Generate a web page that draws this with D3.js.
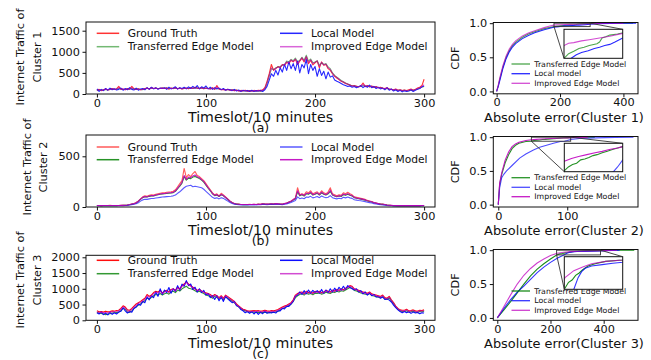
<!DOCTYPE html>
<html>
<head>
<meta charset="utf-8">
<script src="https://cdn.jsdelivr.net/npm/d3@7"></script>
<style>
  body { margin: 0; background: #fff; }
  svg { font-family: "DejaVu Sans", sans-serif; }
</style>
</head>
<body>
<script>
// timeslot of every stored sample (every second slot, 0..300)
const timeslots = d3.range(0, 301, 2);

// ---- cluster 1 traffic ----
const truth1 = [90,110,80,100,120,95,110,130,105,120,180,
  110,120,100,130,115,180,120,110,125,100,
  110,130,140,120,150,130,140,125,135,140,
  130,145,120,140,130,150,125,140,120,135,
  140,125,150,130,160,140,130,150,125,140,
  130,120,150,110,200,120,100,110,95,110,
  90,100,80,95,70,85,75,90,65,80,
  70,85,75,90,80,100,150,300,480,700,
  560,600,650,620,700,680,750,720,800,760,
  820,700,780,850,760,880,720,800,690,740,
  780,620,760,680,700,600,560,480,420,380,
  340,300,280,250,230,210,190,200,180,170,
  190,260,180,200,170,190,160,175,150,160,
  140,130,150,120,110,100,120,90,100,80,
  95,80,100,120,90,110,140,160,200,350];
const transfer1 = [80,100,90,95,110,100,105,120,110,115,130,
  120,110,105,120,115,130,125,110,120,105,
  100,120,135,125,140,130,135,130,130,140,
  135,140,125,135,130,140,130,135,125,130,
  135,130,140,135,145,140,135,140,130,135,
  130,125,135,120,140,120,110,105,100,105,
  95,95,85,90,80,80,75,80,70,75,
  70,75,65,70,60,80,120,250,420,600,
  580,620,640,650,680,700,780,760,820,790,
  850,760,800,870,800,920,780,830,740,760,
  790,680,740,700,720,640,600,500,440,400,
  360,320,290,260,235,215,195,190,180,170,
  180,200,175,190,170,180,160,165,150,150,
  135,125,130,115,105,95,100,85,90,80,
  85,75,80,90,85,100,120,140,160,180];
const local1 = [120,60,110,80,130,90,140,100,125,95,110,
  140,90,130,100,150,110,95,140,90,120,
  130,100,150,110,160,120,150,110,140,130,
  150,110,160,120,140,170,115,150,130,160,
  120,170,130,180,140,200,120,170,140,190,
  120,160,110,150,120,140,100,130,90,110,
  100,80,110,70,95,60,90,70,85,60,
  90,60,80,70,90,60,100,180,330,480,
  420,560,450,620,520,700,560,760,600,720,
  560,780,500,700,620,820,480,700,560,650,
  420,600,440,540,360,520,400,430,330,300,
  280,250,220,200,180,190,160,180,150,170,
  200,150,190,160,210,150,180,130,160,120,
  140,100,150,90,120,70,100,60,90,50,
  80,60,70,100,60,90,110,130,170,190];
const improved1 = [85,105,85,95,115,100,105,125,110,115,150,
  115,115,100,125,110,150,120,110,120,100,
  105,125,135,120,145,130,135,125,130,140,
  130,140,120,135,125,145,125,135,120,130,
  135,125,145,130,150,140,130,145,125,135,
  130,120,140,115,170,120,105,105,95,105,
  90,95,80,90,75,80,70,85,65,75,
  65,80,70,80,70,90,130,270,440,620,
  570,610,640,630,690,690,760,740,810,770,
  830,730,790,860,780,890,750,810,720,750,
  785,650,750,690,710,620,580,490,430,390,
  350,310,285,255,235,212,192,195,180,170,
  185,230,178,195,170,185,160,170,150,155,
  138,128,140,118,108,98,110,88,95,80,
  90,78,90,105,88,105,130,150,180,220];

// ---- cluster 2 traffic ----
const truth2 = [15,15,14,15,15,15,16,15,15,15,15,
  16,17,18,20,25,30,35,45,60,80,
  100,110,105,115,120,118,125,130,135,140,
  140,145,148,150,155,170,200,230,260,380,
  290,320,300,330,350,310,300,280,260,230,
  200,170,140,120,130,110,135,120,100,80,
  60,45,35,30,28,25,24,25,24,26,
  25,27,25,28,26,35,30,28,30,32,
  30,35,32,30,28,35,40,50,60,75,
  90,190,120,130,120,150,140,160,130,140,
  150,130,160,140,130,150,190,130,120,110,
  120,115,140,130,145,130,120,100,95,90,
  85,80,75,65,60,55,45,40,35,30,
  28,25,20,18,16,15,15,14,15,14,
  15,14,15,14,14,15,14,14,15,15];
const transfer2 = [14,14,14,14,15,14,15,14,15,14,15,
  15,16,17,19,23,28,32,40,55,75,
  92,100,98,105,110,110,115,120,125,128,
  130,133,135,138,142,155,180,205,235,300,
  265,285,280,295,300,290,280,265,245,215,
  185,160,130,112,118,104,120,110,92,74,
  55,42,33,28,26,24,23,24,23,24,
  24,25,24,26,25,30,28,27,28,30,
  28,32,30,28,27,32,37,46,55,68,
  82,150,110,120,108,130,125,140,118,125,
  135,118,140,125,118,130,155,118,108,100,
  108,104,122,115,125,115,108,92,86,82,
  78,73,68,60,55,50,42,37,32,28,
  26,23,19,17,15,14,14,13,14,13,
  14,13,14,13,13,14,13,13,14,14];
const local2 = [12,12,12,12,12,12,12,12,12,12,12,
  13,14,15,16,19,23,27,32,42,58,
  70,76,75,80,84,84,88,92,95,98,
  100,102,104,106,110,118,135,150,170,190,
  205,210,215,200,205,200,195,190,175,155,
  135,115,95,85,90,80,92,85,72,58,
  44,34,28,24,22,21,20,21,20,21,
  21,22,21,22,22,25,24,23,24,26,
  24,27,26,24,23,27,31,38,45,55,
  65,100,82,88,82,98,95,105,90,96,
  104,92,108,98,92,96,112,92,85,80,
  86,82,96,90,98,90,85,72,68,64,
  61,57,53,47,43,39,33,29,26,22,
  20,18,15,13,12,11,11,11,11,11,
  11,11,11,11,11,11,11,11,12,12];
const improved2 = [15,15,14,15,15,15,15,15,15,15,15,
  16,16,18,20,24,29,33,42,57,77,
  95,103,100,108,113,112,118,123,128,132,
  133,137,140,142,146,160,186,212,242,310,
  272,295,290,305,315,298,288,270,252,220,
  190,163,133,115,122,106,124,113,94,76,
  57,43,34,29,27,25,24,25,24,25,
  25,26,25,27,26,32,29,28,29,31,
  29,33,31,29,28,33,38,48,57,71,
  86,160,115,125,112,135,130,146,122,130,
  140,122,146,130,122,135,165,122,112,104,
  112,108,128,120,132,120,112,95,89,85,
  80,75,70,62,57,52,43,38,33,29,
  27,24,20,17,16,15,14,14,14,14,
  14,14,14,14,14,14,14,14,15,15];

// ---- cluster 3 traffic ----
const truth3 = [300,270,280,260,290,270,280,300,290,310,320,
  380,460,420,330,320,380,450,520,560,600,
  650,700,820,760,800,880,920,900,950,870,
  920,950,900,980,1000,950,1050,1000,1100,1150,
  1230,1150,1100,1050,1000,950,980,930,900,870,
  850,820,760,820,780,720,780,700,800,750,
  700,650,600,520,460,400,350,330,300,290,
  300,310,300,310,290,300,320,300,290,310,
  300,320,340,380,420,450,480,520,560,650,
  800,850,880,900,850,920,880,900,860,920,
  900,920,880,900,950,920,900,960,930,980,
  950,1000,970,1020,1060,1100,1080,1000,980,950,
  920,900,880,860,900,840,820,800,780,760,
  800,720,700,760,650,560,450,380,330,320,
  320,350,300,310,330,300,290,320,310,330];
const transfer3 = [250,230,220,200,180,200,210,230,240,250,260,
  300,380,350,260,250,300,370,430,480,520,
  580,620,700,680,720,780,820,800,850,800,
  840,870,830,900,920,880,960,930,1000,1040,
  1080,1020,1000,980,940,900,920,880,850,800,
  780,760,700,760,720,680,720,650,740,700,
  650,600,560,480,420,370,320,300,270,260,
  260,260,250,255,240,250,260,250,240,255,
  250,270,290,330,370,400,430,470,510,600,
  720,780,820,850,800,860,830,850,810,860,
  850,870,830,850,890,870,850,900,880,920,
  900,940,920,960,1000,1040,1020,950,930,900,
  870,850,830,820,850,790,770,750,730,720,
  750,680,660,710,610,520,420,350,300,280,
  280,300,260,270,290,260,250,280,270,290];
const local3 = [240,200,260,180,230,170,250,190,240,200,260,
  290,400,300,230,280,260,380,420,520,480,
  600,560,740,650,780,720,900,760,1000,820,
  960,880,1040,860,1000,920,1100,950,1150,1080,
  1260,1100,1150,980,1050,900,1000,880,950,800,
  840,720,780,660,780,620,740,600,760,680,
  620,560,600,460,440,340,300,240,280,220,
  280,200,270,190,260,210,280,220,250,230,
  260,230,300,300,380,360,450,440,520,600,
  760,800,900,820,940,840,960,860,950,880,
  940,860,980,860,960,880,1000,900,1020,920,
  1050,960,1080,980,1100,1040,1000,960,1000,900,
  940,840,900,800,860,780,820,740,760,700,
  740,660,680,640,580,480,400,330,280,240,
  280,240,270,220,260,230,250,210,240,230];
const improved3 = [270,250,260,240,250,240,260,270,270,280,300,
  350,430,390,300,290,350,420,480,530,570,
  620,670,780,730,770,850,890,870,920,850,
  900,930,880,960,990,930,1030,980,1080,1120,
  1200,1130,1080,1030,990,940,970,920,890,850,
  830,800,740,800,760,700,760,680,780,740,
  680,630,580,500,440,390,340,310,290,280,
  280,290,280,290,270,280,300,280,270,290,
  280,300,320,360,400,430,460,500,540,630,
  780,830,860,880,830,900,860,880,840,900,
  880,900,860,880,930,900,880,940,910,960,
  930,980,950,1000,1040,1080,1060,990,960,930,
  900,880,860,840,880,820,800,780,760,740,
  780,700,680,740,630,540,440,370,320,300,
  300,330,280,290,310,280,270,300,290,310];

// ---- CDF of absolute error, cluster 1 ----
const cdf1TransErr = [0,5,10,20,30,40,50,60,80,100,120,150,181,190,200,210,220,230,245,250,255,262,270,285,300,330,360,400,430];
const cdf1Trans = [0,0.08,0.18,0.36,0.5,0.6,0.67,0.72,0.79,0.84,0.875,0.92,0.95,0.958,0.962,0.967,0.969,0.972,0.975,0.978,0.985,0.987,0.99,0.992,0.995,0.997,0.998,0.999,1];
const cdf1LocalErr = [0,5,10,20,30,40,50,60,80,100,120,150,180,195,205,215,228,240,250,260,270,280,295,320,360,400,440];
const cdf1Local = [0,0.07,0.16,0.34,0.48,0.58,0.65,0.7,0.77,0.82,0.86,0.905,0.94,0.95,0.956,0.96,0.963,0.967,0.969,0.972,0.974,0.978,0.985,0.992,0.997,0.999,1];
const cdf1ImpErr = [0,5,10,20,30,40,50,60,80,100,120,150,165,181,190,200,215,230,250,270,295,320,350,400];
const cdf1Imp = [0,0.09,0.2,0.38,0.52,0.62,0.69,0.74,0.81,0.855,0.89,0.935,0.955,0.972,0.976,0.977,0.98,0.982,0.985,0.988,0.993,0.996,0.999,1];

// ---- CDF of absolute error, cluster 2 ----
const cdf2TransErr = [0,2,5,10,15,20,25,30,40,48,52,56,60,64,68,72,76,80,85,90,95,100,105,120,140];
const cdf2Trans = [0,0.3,0.45,0.62,0.74,0.83,0.88,0.91,0.935,0.942,0.95,0.955,0.958,0.965,0.967,0.97,0.974,0.976,0.98,0.983,0.987,0.99,0.993,0.998,1];
const cdf2LocalErr = [0,2,5,8,12,20,31,40,51,60,70,80,90,96,100,105,118,140,170,196];
const cdf2Local = [0,0.25,0.4,0.45,0.5,0.58,0.69,0.75,0.81,0.85,0.88,0.91,0.935,0.94,0.95,0.965,0.98,0.99,0.997,1];
const cdf2ImpErr = [0,2,5,10,15,20,25,30,40,48,55,62,70,78,85,92,100,105,115,130];
const cdf2Imp = [0,0.32,0.47,0.66,0.78,0.86,0.9,0.925,0.95,0.962,0.968,0.972,0.976,0.98,0.983,0.987,0.99,0.993,0.997,1];

// ---- CDF of absolute error, cluster 3 ----
const cdf3TransErr = [0,25,50,75,100,125,150,175,200,223,235,245,255,265,275,290,310,340,388,450,515];
const cdf3Trans = [0,0.12,0.24,0.37,0.5,0.62,0.72,0.8,0.87,0.93,0.945,0.95,0.96,0.965,0.972,0.98,0.985,0.99,0.993,0.998,1];
const cdf3LocalErr = [0,25,50,75,100,125,150,175,200,225,250,262,272,282,300,330,360,388,430,460];
const cdf3Local = [0,0.14,0.27,0.38,0.47,0.57,0.67,0.75,0.82,0.88,0.93,0.955,0.968,0.975,0.98,0.983,0.986,0.988,0.996,1];
const cdf3ImpErr = [0,25,50,75,100,125,150,175,200,225,250,275,300,340,388,420,450];
const cdf3Imp = [0,0.17,0.34,0.5,0.63,0.73,0.81,0.87,0.92,0.955,0.97,0.978,0.985,0.99,0.993,0.997,1];

const trafficNames = ['Ground Truth', 'Transferred Edge Model', 'Local Model', 'Improved Edge Model'];
const cdfNames = ['Transferred Edge Model', 'Local model', 'Improved Edge Model'];

const RED = '#ff0000', GREEN = '#008000', BLUE = '#0000ff', MAG = '#bf00bf';
const TICK_FONT = 11.3;
const LEFT = { x0: 86, x1: 435 };
const RIGHT = { x0: 493.3, x1: 638 };
const INK = '#111';

const svg = d3.select('body').append('svg').attr('width', 651).attr('height', 360);
let clipId = 0;

function styleAxis(sel) {
  sel.select('.domain').remove();
  sel.selectAll('line').attr('stroke', INK);
  sel.selectAll('text').attr('font-size', TICK_FONT).attr('fill', INK)
    .attr('font-family', '"DejaVu Sans", sans-serif');
}

function frame(g, x0, y0, x1, y1) {
  g.append('rect').attr('x', x0).attr('y', y0)
    .attr('width', x1 - x0).attr('height', y1 - y0)
    .attr('fill', 'none').attr('stroke', INK).attr('stroke-width', 1);
}

function addClip(x0, y0, x1, y1) {
  const id = 'clip' + (clipId++);
  svg.append('clipPath').attr('id', id).append('rect')
    .attr('x', x0).attr('y', y0).attr('width', x1 - x0).attr('height', y1 - y0);
  return 'url(#' + id + ')';
}

function drawTraffic(p) {
  const x = d3.scaleLinear().domain([-10, 310]).range([LEFT.x0, LEFT.x1]);
  const y = d3.scaleLinear().domain([0, p.yMax]).range([p.y1, p.y0]);
  const g = svg.append('g');
  const colors = [RED, GREEN, BLUE, MAG];

  const lines = g.append('g').attr('clip-path', addClip(LEFT.x0, p.y0, LEFT.x1, p.y1));
  const line = d3.line().x((d, i) => x(timeslots[i])).y((d) => y(d));
  p.series.forEach((s, i) => {
    lines.append('path').datum(s).attr('d', line)
      .attr('fill', 'none').attr('stroke', colors[i])
      .attr('stroke-opacity', p.alpha[i]).attr('stroke-width', 1.1)
      .attr('stroke-linejoin', 'round');
  });

  g.append('g').attr('transform', 'translate(0,' + p.y1 + ')')
    .call(d3.axisBottom(x).tickValues([0, 100, 200, 300]).tickFormat(d3.format('d'))
      .tickSize(3.5).tickPadding(1))
    .call(styleAxis);
  g.append('g').attr('transform', 'translate(' + LEFT.x0 + ',0)')
    .call(d3.axisLeft(y).tickValues(p.yTicks).tickFormat(d3.format('d'))
      .tickSize(3.5).tickPadding(2.5))
    .call(styleAxis);
  frame(g, LEFT.x0, p.y0, LEFT.x1, p.y1);

  // legend, two columns, filled column by column
  const cols = [{ lx: 96.7, tx: 127.7 }, { lx: 280, tx: 311 }];
  trafficNames.forEach((name, i) => {
    const c = cols[Math.floor(i / 2)];
    const ly = p.legendY[i % 2];
    g.append('line').attr('x1', c.lx).attr('x2', c.lx + 22.5)
      .attr('y1', ly).attr('y2', ly).attr('stroke', colors[i])
      .attr('stroke-opacity', p.alpha[i]).attr('stroke-width', 1.5);
    g.append('text').attr('x', c.tx).attr('y', ly).attr('dy', '0.35em')
      .attr('font-size', 10.7).attr('fill', INK).text(name);
  });

  // y label, two lines
  p.yLabel.forEach((t, i) => {
    g.append('text')
      .attr('transform', 'translate(' + p.yLabelX[i] + ',' + p.yLabelCy + ') rotate(-90)')
      .attr('text-anchor', 'middle').attr('dy', '0.35em')
      .attr('font-size', 11.3).attr('fill', INK).text(t);
  });
  const cx = (LEFT.x0 + LEFT.x1) / 2;
  g.append('text').attr('x', cx).attr('y', p.y1 + 27.8).attr('text-anchor', 'middle')
    .attr('font-size', 14.2).attr('fill', INK).text('Timeslot/10 minutes');
  g.append('text').attr('x', cx).attr('y', p.y1 + 38).attr('text-anchor', 'middle')
    .attr('font-size', 12.5).attr('fill', INK).text(p.tag);
}

function drawCdf(p) {
  const x = d3.scaleLinear().domain(p.xDomain).range([RIGHT.x0, RIGHT.x1]);
  const y = d3.scaleLinear().domain([-0.035, 1.01]).range([p.y1, p.y0]);
  const g = svg.append('g');
  const colors = [GREEN, BLUE, MAG];
  const line = (sx, sy, errs) => d3.line().x((d, i) => sx(errs[i])).y((d) => sy(d));

  const main = g.append('g').attr('clip-path', addClip(RIGHT.x0, p.y0, RIGHT.x1, p.y1));
  p.curves.forEach((c, i) => {
    main.append('path').datum(c.cdf).attr('d', line(x, y, c.err))
      .attr('fill', 'none').attr('stroke', colors[i])
      .attr('stroke-opacity', p.alpha[i]).attr('stroke-width', 1.1);
  });

  g.append('g').attr('transform', 'translate(0,' + p.y1 + ')')
    .call(d3.axisBottom(x).tickValues(p.xTicks).tickFormat(d3.format('d'))
      .tickSize(3.5).tickPadding(1))
    .call(styleAxis);
  g.append('g').attr('transform', 'translate(' + RIGHT.x0 + ',0)')
    .call(d3.axisLeft(y).tickValues([0, 0.5, 1]).tickFormat(d3.format('.1f'))
      .tickSize(3.5).tickPadding(2.5))
    .call(styleAxis);
  frame(g, RIGHT.x0, p.y0, RIGHT.x1, p.y1);

  // legend
  cdfNames.forEach((name, i) => {
    const ly = p.legendY[i];
    g.append('line').attr('x1', 511.5).attr('x2', 530).attr('y1', ly).attr('y2', ly)
      .attr('stroke', colors[i]).attr('stroke-opacity', p.alpha[i]).attr('stroke-width', 1.3);
    g.append('text').attr('x', 534.3).attr('y', ly).attr('dy', '0.35em')
      .attr('font-size', 7.8).attr('fill', INK).text(name);
  });

  // zoomed inset
  const ins = p.inset;
  const ix = d3.scaleLinear().domain(ins.xDomain).range([ins.x0, ins.x1]);
  const iy = d3.scaleLinear().domain(ins.yDomain).range([ins.y1, ins.y0]);
  g.append('rect').attr('x', ins.x0).attr('y', ins.y0)
    .attr('width', ins.x1 - ins.x0).attr('height', ins.y1 - ins.y0).attr('fill', '#fff');
  const inner = g.append('g').attr('clip-path', addClip(ins.x0, ins.y0, ins.x1, ins.y1));
  p.curves.forEach((c, i) => {
    inner.append('path').datum(c.cdf).attr('d', line(ix, iy, c.err))
      .attr('fill', 'none').attr('stroke', colors[i])
      .attr('stroke-opacity', p.alpha[i]).attr('stroke-width', 1.1);
  });
  frame(g, ins.x0, ins.y0, ins.x1, ins.y1);

  // marked region on the main axes + connectors
  const rx0 = x(ins.xDomain[0]), rx1 = x(ins.xDomain[1]);
  const ry0 = y(ins.yDomain[1]), ry1 = y(ins.yDomain[0]);
  g.append('rect').attr('x', rx0).attr('y', ry0).attr('width', rx1 - rx0)
    .attr('height', ry1 - ry0).attr('fill', 'none').attr('stroke', '#333').attr('stroke-width', 0.9);
  g.append('line').attr('x1', rx0).attr('y1', ry1).attr('x2', ins.x0).attr('y2', ins.y1)
    .attr('stroke', '#333').attr('stroke-width', 0.9);
  g.append('line').attr('x1', rx1).attr('y1', ry0).attr('x2', ins.x1).attr('y2', ins.y0)
    .attr('stroke', '#333').attr('stroke-width', 0.9);

  g.append('text')
    .attr('transform', 'translate(455,' + (p.y0 + p.y1) / 2 + ') rotate(-90)')
    .attr('text-anchor', 'middle').attr('dy', '0.35em')
    .attr('font-size', 11.3).attr('fill', INK).text('CDF');
  g.append('text').attr('x', 564).attr('y', p.y1 + 27.8).attr('text-anchor', 'middle')
    .attr('font-size', 12.9).attr('fill', INK).text(p.xLabel);
}

drawTraffic({
  y0: 22, y1: 94, yMax: 1706, yTicks: [0, 500, 1000, 1500],
  series: [truth1, transfer1, local1, improved1], alpha: [0.8, 0.55, 0.85, 0.6],
  legendY: [33.3, 46.7], yLabel: ['Internet Traffic of', 'Cluster 1'],
  yLabelX: [20, 36.7], yLabelCy: 57, tag: '(a)'
});
drawTraffic({
  y0: 135, y1: 207, yMax: 710, yTicks: [0, 500],
  series: [truth2, transfer2, local2, improved2], alpha: [0.65, 0.85, 0.65, 0.9],
  legendY: [147, 159.7], yLabel: ['Internet Traffic of', 'Cluster 2'],
  yLabelX: [26.7, 42.7], yLabelCy: 167, tag: '(b)'
});
drawTraffic({
  y0: 255.3, y1: 320.3, yMax: 2063, yTicks: [0, 500, 1000, 1500, 2000],
  series: [truth3, transfer3, local3, improved3], alpha: [0.95, 0.8, 0.95, 0.7],
  legendY: [260.3, 273.7], yLabel: ['Internet Traffic of', 'Cluster 3'],
  yLabelX: [20, 36.7], yLabelCy: 280, tag: '(c)'
});

drawCdf({
  y0: 22.5, y1: 93.8, xDomain: [-10.5, 446], xTicks: [0, 200, 400],
  curves: [
    { err: cdf1TransErr, cdf: cdf1Trans },
    { err: cdf1LocalErr, cdf: cdf1Local },
    { err: cdf1ImpErr, cdf: cdf1Imp }
  ],
  alpha: [0.7, 0.85, 0.7], legendY: [64, 73.7, 83.3],
  inset: { x0: 564, x1: 622.7, y0: 29.3, y1: 58.3, xDomain: [181, 295], yDomain: [0.95, 1.0] },
  xLabel: 'Absolute error(Cluster 1)'
});
drawCdf({
  y0: 136.5, y1: 207, xDomain: [-7.2, 202.6], xTicks: [0, 100],
  curves: [
    { err: cdf2TransErr, cdf: cdf2Trans },
    { err: cdf2LocalErr, cdf: cdf2Local },
    { err: cdf2ImpErr, cdf: cdf2Imp }
  ],
  alpha: [0.85, 0.7, 0.9], legendY: [177.7, 187.3, 196.7],
  inset: { x0: 564.3, x1: 622.7, y0: 143.3, y1: 171.7, xDomain: [48, 105], yDomain: [0.94, 1.0] },
  xLabel: 'Absolute error(Cluster 2)'
});
drawCdf({
  y0: 249.5, y1: 320.3, xDomain: [-15, 529], xTicks: [0, 200, 400],
  curves: [
    { err: cdf3TransErr, cdf: cdf3Trans },
    { err: cdf3LocalErr, cdf: cdf3Local },
    { err: cdf3ImpErr, cdf: cdf3Imp }
  ],
  alpha: [0.9, 0.8, 0.75], legendY: [291, 300.7, 310.3],
  inset: { x0: 564.3, x1: 622.7, y0: 256.7, y1: 289.3, xDomain: [223, 388], yDomain: [0.93, 1.0] },
  xLabel: 'Absolute error(Cluster 3)'
});
</script>
</body>
</html>
